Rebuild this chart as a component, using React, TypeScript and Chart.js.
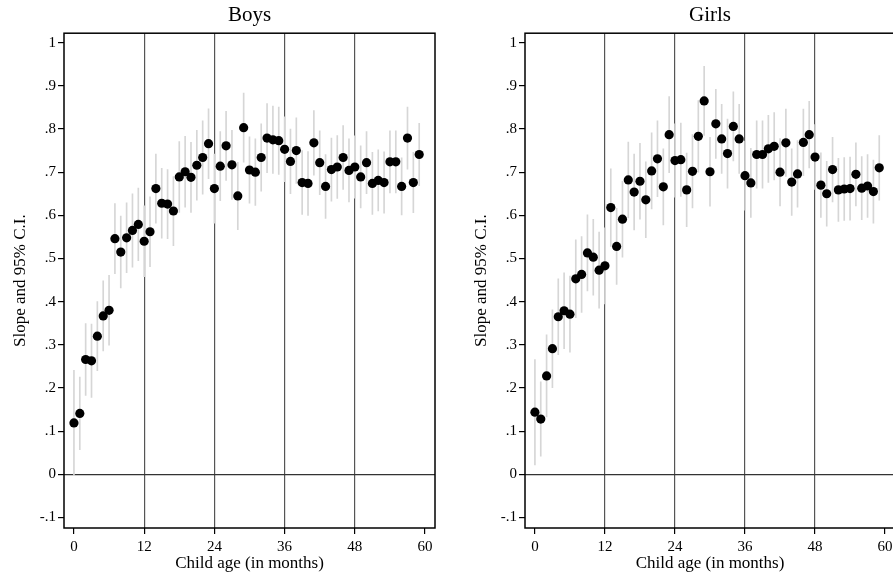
import { useEffect, useRef } from "react";
import { Chart, registerables } from "chart.js";
Chart.register(...registerables);

// Child age in months (categories)
const ages = [
  0, 1, 2, 3, 4, 5, 6, 7, 8, 9, 10, 11, 12, 13, 14, 15, 16, 17, 18, 19,
  20, 21, 22, 23, 24, 25, 26, 27, 28, 29, 30, 31, 32, 33, 34, 35, 36, 37, 38, 39,
  40, 41, 42, 43, 44, 45, 46, 47, 48, 49, 50, 51, 52, 53, 54, 55, 56, 57, 58, 59,
];

const xTicks = [0, 12, 24, 36, 48, 60];
const xRefLines = [12, 24, 36, 48];
const yTicks = [-0.1, 0, 0.1, 0.2, 0.3, 0.4, 0.5, 0.6, 0.7, 0.8, 0.9, 1];
const yTickLabels = ["-.1", "0", ".1", ".2", ".3", ".4", ".5", ".6", ".7", ".8", ".9", "1"];

// Boys: slope estimates and 95% C.I. half-widths
const boysSlope = [
  0.119, 0.141, 0.266, 0.263, 0.32, 0.367, 0.38, 0.546, 0.515, 0.548,
  0.565, 0.579, 0.54, 0.562, 0.662, 0.628, 0.626, 0.61, 0.689, 0.701,
  0.688, 0.716, 0.734, 0.766, 0.662, 0.714, 0.761, 0.717, 0.645, 0.803,
  0.705, 0.7, 0.734, 0.779, 0.775, 0.773, 0.753, 0.725, 0.75, 0.676,
  0.674, 0.768, 0.722, 0.667, 0.706, 0.712, 0.734, 0.704, 0.712, 0.689,
  0.722, 0.674, 0.681, 0.676, 0.724, 0.724, 0.667, 0.779, 0.676, 0.741,
];
const boysCI = [
  0.122, 0.084, 0.083, 0.085, 0.08, 0.081, 0.081, 0.081, 0.083, 0.081,
  0.085, 0.084, 0.082, 0.081, 0.08, 0.081, 0.08, 0.08, 0.082, 0.082,
  0.081, 0.081, 0.085, 0.081, 0.08, 0.08, 0.08, 0.08, 0.078, 0.08,
  0.077, 0.077, 0.078, 0.08, 0.078, 0.078, 0.075, 0.075, 0.076, 0.074,
  0.074, 0.075, 0.074, 0.074, 0.073, 0.073, 0.074, 0.073, 0.072, 0.072,
  0.072, 0.072, 0.071, 0.071, 0.072, 0.072, 0.066, 0.072, 0.07, 0.072,
];

// Girls: slope estimates and 95% C.I. half-widths
const girlsSlope = [
  0.144, 0.128, 0.228, 0.291, 0.365, 0.379, 0.371, 0.453, 0.463, 0.513,
  0.503, 0.473, 0.483, 0.618, 0.528, 0.591, 0.682, 0.654, 0.679, 0.636,
  0.703, 0.731, 0.666, 0.787, 0.727, 0.729, 0.659, 0.702, 0.783, 0.865,
  0.701, 0.812, 0.777, 0.743, 0.806, 0.777, 0.692, 0.675, 0.741, 0.741,
  0.754, 0.76, 0.7, 0.768, 0.677, 0.696, 0.769, 0.787, 0.735, 0.67,
  0.65, 0.706, 0.659, 0.661, 0.662, 0.695, 0.663, 0.668, 0.655, 0.71,
];
const girlsCI = [
  0.122, 0.086, 0.095, 0.09, 0.088, 0.088, 0.088, 0.09, 0.088, 0.088,
  0.088, 0.088, 0.088, 0.09, 0.088, 0.088, 0.088, 0.088, 0.088, 0.088,
  0.088, 0.088, 0.088, 0.088, 0.085, 0.085, 0.085, 0.085, 0.083, 0.08,
  0.08, 0.08, 0.08, 0.08, 0.08, 0.08, 0.08, 0.08, 0.078, 0.078,
  0.078, 0.078, 0.078, 0.078, 0.077, 0.077, 0.077, 0.077, 0.075, 0.075,
  0.075, 0.075, 0.073, 0.073, 0.073, 0.073, 0.073, 0.073, 0.073, 0.075,
];

const FONT = "'Liberation Serif', 'Times New Roman', serif";

const framePlugin = {
  id: "frame",
  afterDraw(chart: any) {
    const { ctx, chartArea: a } = chart;
    ctx.save();
    ctx.strokeStyle = "#000";
    ctx.lineWidth = 1.5;
    ctx.strokeRect(a.left, a.top, a.right - a.left, a.bottom - a.top);
    ctx.restore();
  },
};

function Panel(props: { title: string; slope: number[]; ci: number[]; left: number; width: number }) {
  const ref = useRef<HTMLCanvasElement | null>(null);
  useEffect(() => {
    if (!ref.current) return;
    const { slope, ci } = props;
    const chart = new Chart(ref.current, {
      type: "scatter",
      data: {
        datasets: [
          {
            type: "scatter",
            data: ages.map((a, i) => ({ x: a, y: slope[i] })),
            pointRadius: 4.6,
            pointHoverRadius: 4.6,
            backgroundColor: "#000",
            borderWidth: 0,
            order: 0,
          } as any,
          {
            type: "bar",
            data: ages.map((a, i) => ({ x: a, y: [slope[i] - ci[i], slope[i] + ci[i]] })),
            barThickness: 1,
            backgroundColor: "#d6d6d6",
            borderWidth: 0,
            order: 1,
          } as any,
        ],
      },
      options: {
        animation: false,
        responsive: false,
        maintainAspectRatio: false,
        events: [],
        layout: { padding: { top: 0, right: 11, bottom: 0, left: 0 } },
        plugins: {
          legend: { display: false },
          tooltip: { enabled: false },
          title: {
            display: true,
            text: props.title,
            fullSize: false,
            color: "#000",
            font: { family: FONT, size: 21, weight: "normal" },
            padding: { top: 3, bottom: 5 },
          },
        },
        scales: {
          x: {
            type: "linear",
            min: -1.7,
            max: 61.7,
            offset: false,
            afterBuildTicks: (s: any) => {
              s.ticks = xTicks.map((v) => ({ value: v }));
            },
            afterFit: (s: any) => {
              s.height = 47;
            },
            border: { display: false },
            grid: {
              offset: false,
              drawOnChartArea: true,
              color: (c: any) =>
                c.tick && xRefLines.includes(c.tick.value) ? "#555" : "rgba(0,0,0,0)",
              tickColor: "#000",
              tickLength: 6,
              lineWidth: 1.2,
            },
            ticks: {
              color: "#000",
              font: { family: FONT, size: 15 },
              padding: 4,
              maxRotation: 0,
              autoSkip: false,
              callback: (v: any) => String(v),
            },
            title: {
              display: true,
              text: "Child age (in months)",
              color: "#000",
              font: { family: FONT, size: 17 },
              padding: { top: 0, bottom: 1 },
            },
          },
          y: {
            type: "linear",
            min: -0.1244,
            max: 1.022,
            afterBuildTicks: (s: any) => {
              s.ticks = yTicks.map((v) => ({ value: v }));
            },
            afterFit: (s: any) => {
              s.width = 64;
            },
            border: { display: false },
            grid: {
              drawOnChartArea: true,
              color: (c: any) =>
                c.tick && Math.abs(c.tick.value) < 1e-9 ? "#333" : "rgba(0,0,0,0)",
              tickColor: "#000",
              tickLength: 6,
              lineWidth: 1.2,
            },
            ticks: {
              color: "#000",
              font: { family: FONT, size: 15 },
              padding: 2,
              autoSkip: false,
              callback: (_v: any, i: number) => yTickLabels[i],
            },
            title: {
              display: true,
              text: "Slope and 95% C.I.",
              color: "#000",
              font: { family: FONT, size: 17 },
              padding: { top: 10, bottom: 0 },
            },
          },
        },
      } as any,
      plugins: [framePlugin],
    });
    return () => chart.destroy();
  }, []);
  return (
    <canvas
      ref={ref}
      width={props.width}
      height={575}
      style={{ position: "absolute", left: props.left, top: 0, width: props.width, height: 575 }}
    />
  );
}

export default function App() {
  return (
    <div
      style={{
        position: "absolute",
        left: 0,
        top: 0,
        width: 893,
        height: 575,
        overflow: "hidden",
        background: "#fff",
      }}
    >
      <Panel title="Boys" slope={boysSlope} ci={boysCI} left={0} width={446} />
      <Panel title="Girls" slope={girlsSlope} ci={girlsCI} left={461} width={445} />
    </div>
  );
}
